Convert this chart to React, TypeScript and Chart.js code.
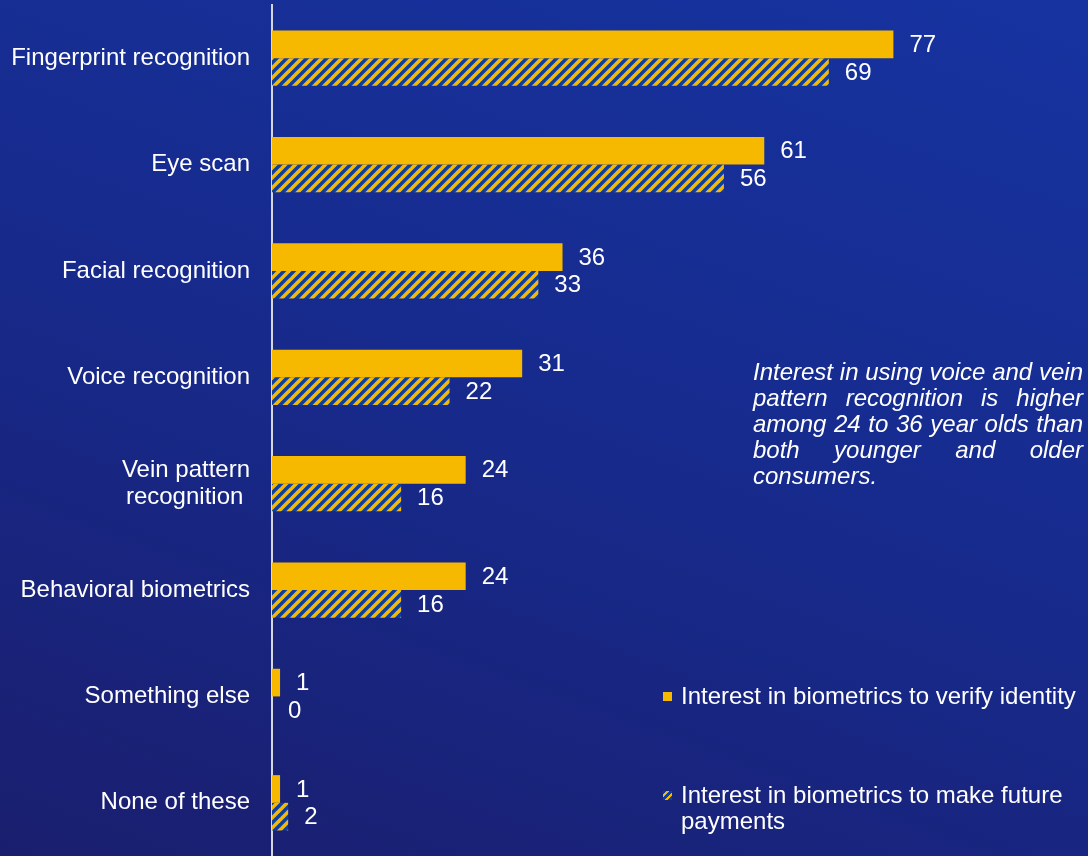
import React, { useEffect, useRef } from "react";
import { Chart, registerables } from "chart.js";

Chart.register(...registerables);

const categories: (string | string[])[] = [
  "Fingerprint recognition",
  "Eye scan",
  "Facial recognition",
  "Voice recognition",
  ["Vein pattern", "recognition "],
  "Behavioral biometrics",
  "Something else",
  "None of these",
];
const verifyIdentity = [77, 61, 36, 31, 24, 24, 1, 1];
const futurePayments = [69, 56, 33, 22, 16, 16, 0, 2];
const seriesNames = [
  "Interest in biometrics to verify identity",
  "Interest in biometrics to make future payments",
];
const noteText =
  "Interest in using voice and vein pattern recognition is higher among 24 to 36 year olds than both younger and older consumers.";

const YELLOW = "#f7b900";
const HATCH_BLUE = "#0b3fa6";
const FONT = "'Liberation Sans', Arial, sans-serif";
const FS = 24;

function makeHatch(): CanvasPattern | string {
  const c = document.createElement("canvas");
  c.width = 10;
  c.height = 10;
  const g = c.getContext("2d");
  if (!g) return HATCH_BLUE;
  g.fillStyle = HATCH_BLUE;
  g.fillRect(0, 0, 10, 10);
  g.strokeStyle = YELLOW;
  g.lineWidth = 3.6;
  const segs = [
    [-5, 5, 5, -5],
    [0, 10, 10, 0],
    [5, 15, 15, 5],
  ];
  for (const [a, b, cc, d] of segs) {
    g.beginPath();
    g.moveTo(a, b);
    g.lineTo(cc, d);
    g.stroke();
  }
  return g.createPattern(c, "repeat") || HATCH_BLUE;
}

const valueLabels = {
  id: "valueLabels",
  afterDatasetsDraw(chart: any) {
    const ctx = chart.ctx;
    ctx.save();
    ctx.fillStyle = "#ffffff";
    ctx.font = `${FS}px ${FONT}`;
    ctx.textAlign = "left";
    ctx.textBaseline = "middle";
    chart.data.datasets.forEach((ds: any, di: number) => {
      const meta = chart.getDatasetMeta(di);
      meta.data.forEach((bar: any, i: number) => {
        ctx.fillText(String(ds.data[i]), bar.x + 16, bar.y + 1);
      });
    });
    ctx.restore();
  },
};

export default function App() {
  const ref = useRef<HTMLCanvasElement>(null);

  useEffect(() => {
    document.body.style.margin = "0";
    if (!ref.current) return;
    const hatch = makeHatch();
    const chart = new Chart(ref.current, {
      type: "bar",
      data: {
        labels: categories as any,
        datasets: [
          {
            label: seriesNames[0],
            data: verifyIdentity,
            backgroundColor: YELLOW,
            categoryPercentage: 0.52,
            barPercentage: 1,
          },
          {
            label: seriesNames[1],
            data: futurePayments,
            backgroundColor: hatch as any,
            categoryPercentage: 0.52,
            barPercentage: 1,
          },
        ],
      },
      options: {
        indexAxis: "y",
        animation: false,
        responsive: false,
        maintainAspectRatio: false,
        layout: { padding: { top: 5, bottom: 0, left: 0, right: 9 } },
        plugins: {
          legend: { display: false },
          tooltip: { enabled: false },
        },
        scales: {
          x: {
            display: false,
            min: 0,
            max: 100,
          },
          y: {
            grid: { display: false, drawTicks: false },
            border: { display: true, color: "#d4d6e2", width: 2 },
            ticks: {
              color: "#ffffff",
              font: { family: FONT, size: FS, lineHeight: 1.15 },
              padding: 22,
              crossAlign: "near",
            },
            afterFit(scale: any) {
              scale.width = 272;
              scale.paddingTop = 0;
              scale.paddingBottom = 0;
            },
          },
        },
      },
      plugins: [valueLabels],
    });
    return () => chart.destroy();
  }, []);

  const textStyle: React.CSSProperties = {
    position: "absolute",
    color: "#ffffff",
    fontFamily: FONT,
    fontSize: FS,
    lineHeight: "26px",
  };

  const hatchCss =
    `repeating-linear-gradient(-45deg, ${HATCH_BLUE} 0px, ${HATCH_BLUE} 3px, ${YELLOW} 3px, ${YELLOW} 5px)`;

  return (
    <div
      style={{
        position: "fixed",
        left: 0,
        top: 0,
        width: 1088,
        height: 856,
        overflow: "hidden",
        background: "linear-gradient(20deg, #1a1e6e 0%, #172a8c 50%, #1633a0 100%)",
      }}
    >
      <canvas ref={ref} width={1088} height={856} style={{ position: "absolute", left: 0, top: 0 }} />
      <div
        style={{
          ...textStyle,
          left: 753,
          top: 359,
          width: 330,
          fontStyle: "italic",
          textAlign: "justify",
        }}
      >
        {noteText}
      </div>
      <div style={{ ...textStyle, left: 663, top: 683, width: 425 }}>
        <span
          style={{
            position: "absolute",
            left: 0,
            top: 9,
            width: 9,
            height: 9,
            background: YELLOW,
          }}
        />
        <div style={{ marginLeft: 18 }}>{seriesNames[0]}</div>
      </div>
      <div style={{ ...textStyle, left: 663, top: 782, width: 420 }}>
        <span
          style={{
            position: "absolute",
            left: 0,
            top: 9,
            width: 9,
            height: 9,
            background: hatchCss,
          }}
        />
        <div style={{ marginLeft: 18 }}>{seriesNames[1]}</div>
      </div>
    </div>
  );
}
